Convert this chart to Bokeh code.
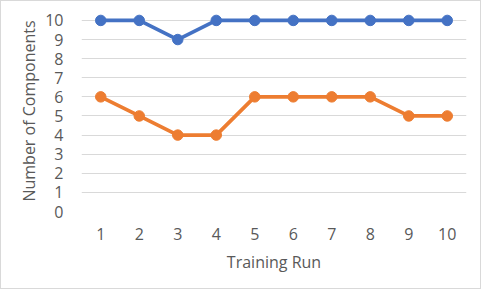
from bokeh.plotting import figure
from bokeh.models import Range1d, FixedTicker
from bokeh.embed import file_html
from bokeh.resources import INLINE

runs = [1, 2, 3, 4, 5, 6, 7, 8, 9, 10]
series_a = [10, 10, 9, 10, 10, 10, 10, 10, 10, 10]
series_b = [6, 5, 4, 4, 6, 6, 6, 6, 5, 5]
y_ticks = [0, 1, 2, 3, 4, 5, 6, 7, 8, 9, 10]

BLUE = "#4472C4"
ORANGE = "#ED7D31"
TXT = "#595959"
GRID = "#D9D9D9"
FONT = "Open Sans"

p = figure(width=481, height=289, output_backend="svg", toolbar_location=None,
           x_range=Range1d(0.5, 10.5), y_range=Range1d(0, 10.52),
           min_border_left=80, min_border_right=16, min_border_top=9, min_border_bottom=79)
p.outline_line_color = None
p.styles = {"border": "1px solid #D9D9D9", "box-sizing": "border-box"}

for ys, c in [(series_a, BLUE), (series_b, ORANGE)]:
    p.line(runs, ys, line_color=c, line_width=3.7)
    p.scatter(runs, ys, size=10.5, fill_color=c, line_color=c)

p.xaxis.ticker = FixedTicker(ticks=runs)
p.yaxis.ticker = FixedTicker(ticks=y_ticks)
p.xgrid.grid_line_color = None
p.ygrid.grid_line_color = GRID
p.ygrid.grid_line_width = 1

for ax in (p.xaxis[0], p.yaxis[0]):
    ax.axis_line_color = None
    ax.major_tick_line_color = None
    ax.minor_tick_line_color = None
    ax.major_tick_out = 0
    ax.major_tick_in = 0
    ax.major_label_text_font = FONT
    ax.major_label_text_font_size = "16px"
    ax.major_label_text_color = TXT
    ax.axis_label_text_font = FONT
    ax.axis_label_text_font_size = "16px"
    ax.axis_label_text_color = TXT
    ax.axis_label_text_font_style = "normal"

p.xaxis.axis_label = "Training Run"
p.yaxis.axis_label = "Number of Components"
p.xaxis.major_label_standoff = 16
p.xaxis.axis_label_standoff = 8
p.yaxis.major_label_standoff = 18
p.yaxis.axis_label_standoff = 2

open("out.html", "w").write(file_html(p, INLINE))
